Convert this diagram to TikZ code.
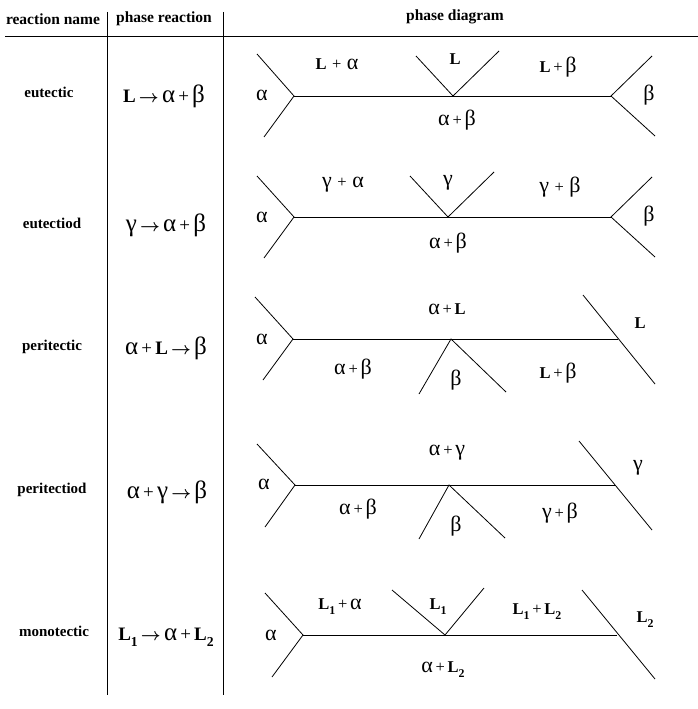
\documentclass[tikz,border=0pt]{standalone}
\usepackage{bm}
\usepackage{fontspec}
\setmainfont{Liberation Serif}
\newcommand\gk[1]{{\fontsize{22}{22}\selectfont #1}}
\newcommand\gkr[1]{{\fontsize{25}{25}\selectfont #1}}
\newcommand\LL{\textbf{L}}
\newcommand\sbs[1]{\raisebox{-0.3em}{\fontsize{0.72em}{0.72em}\selectfont\bfseries #1}}
\newcommand\Lone{\textbf{L}\sbs{1}}
\newcommand\Ltwo{\textbf{L}\sbs{2}}
\newcommand\pl{\,\,+\,\,}
\begin{document}
\begin{tikzpicture}[x=1pt,y=-1pt,
  hdr/.style={font=\fontsize{15.5}{15}\selectfont\bfseries, inner sep=0pt},
  rname/.style={font=\fontsize{15}{15}\selectfont\bfseries, inner sep=0pt},
  react/.style={font=\fontsize{19}{19}\selectfont, inner sep=0pt},
  lab/.style={font=\fontsize{16.5}{16}\selectfont, inner sep=0pt},
  tline/.style={line width=0.9pt},
  pline/.style={line width=0.8pt}]
\useasboundingbox (0,0) rectangle (698,709);
% table
\coordinate (h1) at (5,36); \coordinate (h2) at (698,36);
\coordinate (v1a) at (107,12); \coordinate (v1b) at (107,695);
\coordinate (v2a) at (223,12); \coordinate (v2b) at (223,695);
\draw[tline] (h1) -- (h2);
\draw[tline] (v1a) -- (v1b);
\draw[tline] (v2a) -- (v2b);
\node[hdr] (t1) at (53,19) {reaction name};
\node[hdr] (t2) at (164,19) {phase reaction};
\node[hdr] (t3) at (455,17) {phase diagram};
% names
\node[rname] (n1) at (49,92) {eutectic};
\node[rname] (n2) at (52,223) {eutectiod};
\node[rname] (n3) at (52,347) {peritectic};
\node[rname] (n4) at (52,490) {peritectiod};
\node[rname] (n5) at (54,631) {monotectic};
% reactions
\node[react] (r1) at (164,96) {\LL\,$\bm{\rightarrow}$\,\gkr{α}\,+\,\gkr{β}};
\node[react] (r2) at (166,225) {\gkr{γ}\,$\bm{\rightarrow}$\,\gkr{α}\,+\,\gkr{β}};
\node[react] (r3) at (166,348) {\gkr{α}\,+\,\LL\,$\bm{\rightarrow}$\,\gkr{β}};
\node[react] (r4) at (167,492) {\gkr{α}\,+\,\gkr{γ}\,$\bm{\rightarrow}$\,\gkr{β}};
\node[react] (r5) at (166,637) {\Lone\,$\bm{\rightarrow}$\,\gkr{α}\,+\,\Ltwo};
% ---------- row 1 eutectic
\coordinate (a1) at (294,96); \coordinate (b1) at (611,96); \coordinate (m1) at (453,96);
\coordinate (a1u) at (257,54); \coordinate (a1d) at (264,137);
\coordinate (b1u) at (652,56); \coordinate (b1d) at (655,136);
\coordinate (m1l) at (416,56); \coordinate (m1r) at (499,51);
\draw[pline] (a1u) -- (a1) -- (a1d);
\draw[pline] (b1u) -- (b1) -- (b1d);
\draw[pline] (a1) -- (b1);
\draw[pline] (m1l) -- (m1) -- (m1r);
\node[lab] (l11) at (262,95) {\gk{α}};
\node[lab] (l12) at (337,64) {\LL\pl\gk{α}};
\node[lab] (l13) at (455,59) {\LL};
\node[lab] (l14) at (558,67) {\LL\,+\,\gk{β}};
\node[lab] (l15) at (649,95) {\gk{β}};
\node[lab] (l16) at (457,120) {\gk{α}\,+\,\gk{β}};
% ---------- row 2 eutectoid
\coordinate (a2) at (294,217); \coordinate (b2) at (611,217); \coordinate (m2) at (448,217);
\coordinate (a2u) at (257,176); \coordinate (a2d) at (264,258);
\coordinate (b2u) at (652,177); \coordinate (b2d) at (655,257);
\coordinate (m2l) at (410,176); \coordinate (m2r) at (494,172);
\draw[pline] (a2u) -- (a2) -- (a2d);
\draw[pline] (b2u) -- (b2) -- (b2d);
\draw[pline] (a2) -- (b2);
\draw[pline] (m2l) -- (m2) -- (m2r);
\node[lab] (l21) at (262,217) {\gk{α}};
\node[lab] (l22) at (343,185) {\gk{γ}\pl\gk{α}};
\node[lab] (l23) at (448,183) {\gk{γ}};
\node[lab] (l24) at (560,187) {\gk{γ}\pl\gk{β}};
\node[lab] (l25) at (649,216) {\gk{β}};
\node[lab] (l26) at (448,243) {\gk{α}\,+\,\gk{β}};
% ---------- row 3 peritectic
\coordinate (a3) at (293,339); \coordinate (b3) at (618,339); \coordinate (m3) at (451,339);
\coordinate (a3u) at (255,297); \coordinate (a3d) at (263,380);
\coordinate (b3u) at (583,295); \coordinate (b3d) at (655,384);
\coordinate (m3l) at (419,394); \coordinate (m3r) at (506,392);
\draw[pline] (a3u) -- (a3) -- (a3d);
\draw[pline] (b3u) -- (b3d);
\draw[pline] (a3) -- (b3);
\draw[pline] (m3l) -- (m3) -- (m3r);
\node[lab] (l31) at (262,339) {\gk{α}};
\node[lab] (l32) at (447,309) {\gk{α}\,+\,\LL};
\node[lab] (l33) at (640,323) {\LL};
\node[lab] (l34) at (353,369) {\gk{α}\,+\,\gk{β}};
\node[lab] (l35) at (456,380) {\gk{β}};
\node[lab] (l36) at (558,373) {\LL\,+\,\gk{β}};
% ---------- row 4 peritectoid
\coordinate (a4) at (295,485); \coordinate (b4) at (616,485); \coordinate (m4) at (449,485);
\coordinate (a4u) at (257,444); \coordinate (a4d) at (265,527);
\coordinate (b4u) at (579,441); \coordinate (b4d) at (652,530);
\coordinate (m4l) at (419,539); \coordinate (m4r) at (505,538);
\draw[pline] (a4u) -- (a4) -- (a4d);
\draw[pline] (b4u) -- (b4d);
\draw[pline] (a4) -- (b4);
\draw[pline] (m4l) -- (m4) -- (m4r);
\node[lab] (l41) at (264,484) {\gk{α}};
\node[lab] (l42) at (447,453) {\gk{α}\,+\,\gk{γ}};
\node[lab] (l43) at (638,468) {\gk{γ}};
\node[lab] (l44) at (358,509) {\gk{α}\,+\,\gk{β}};
\node[lab] (l45) at (456,526) {\gk{β}};
\node[lab] (l46) at (560,513) {\gk{γ}\,+\,\gk{β}};
% ---------- row 5 monotectic
\coordinate (a5) at (303,635); \coordinate (b5) at (617,635); \coordinate (m5) at (445,635);
\coordinate (a5u) at (265,593); \coordinate (a5d) at (272,677);
\coordinate (b5u) at (582,590); \coordinate (b5d) at (655,679);
\coordinate (m5l) at (392,590); \coordinate (m5r) at (484,588);
\draw[pline] (a5u) -- (a5) -- (a5d);
\draw[pline] (b5u) -- (b5d);
\draw[pline] (a5) -- (b5);
\draw[pline] (m5l) -- (m5) -- (m5r);
\node[lab] (l51) at (271,635) {\gk{α}};
\node[lab] (l52) at (340,607) {\Lone\,+\,\gk{α}};
\node[lab] (l53) at (438,607) {\Lone};
\node[lab] (l54) at (537,612) {\Lone\,+\,\Ltwo};
\node[lab] (l55) at (645,620) {\Ltwo};
\node[lab] (l56) at (443,670) {\gk{α}\,+\,\Ltwo};
\end{tikzpicture}
\end{document}
